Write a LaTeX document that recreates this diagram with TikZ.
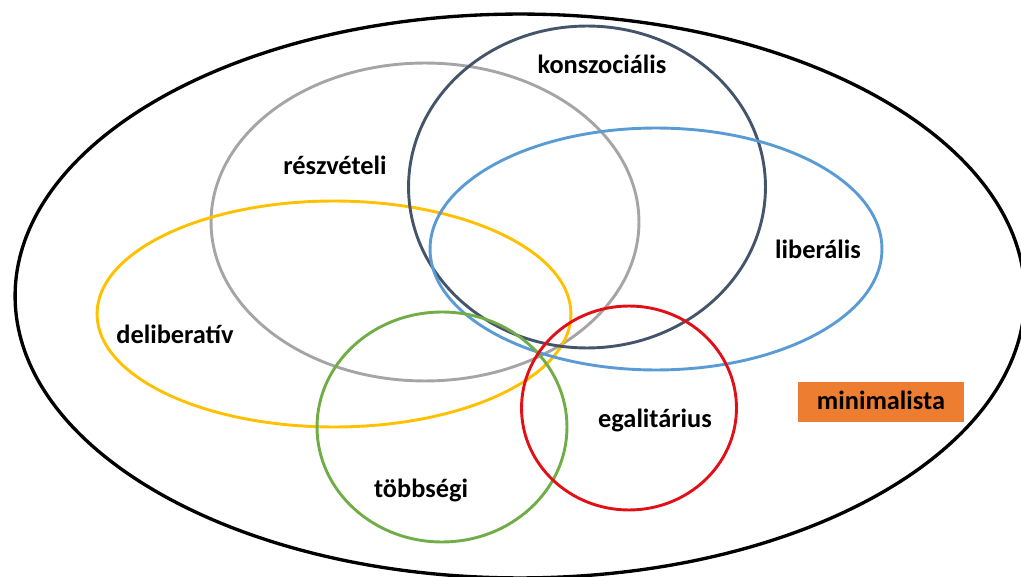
\documentclass[tikz,border=0pt]{standalone}
\usepackage{fontspec}
\setmainfont{Carlito}
\usepackage{tikz}
\usetikzlibrary{shapes.geometric}

\definecolor{kgray}{RGB}{165,165,165}
\definecolor{knavy}{RGB}{68,84,106}
\definecolor{kblue}{RGB}{91,155,213}
\definecolor{kyellow}{RGB}{255,192,0}
\definecolor{kgreen}{RGB}{112,173,71}
\definecolor{kred}{RGB}{226,16,22}
\definecolor{korange}{RGB}{237,125,49}

\begin{document}
\begin{tikzpicture}[x=0.02cm,y=-0.02cm]
\tikzstyle{lbl}=[anchor=base, inner sep=0pt, font=\fontsize{15}{18}\selectfont\bfseries]
\tikzstyle{ring}=[line width=1.65pt]

\useasboundingbox (0,0) rectangle (1021,577);
\clip (0,0) rectangle (1021,577);

% outer set
\draw[line width=1.9pt, black] (520,296) ellipse [x radius=10.1cm, y radius=5.64cm];

% overlapping sets
\draw[ring, kgray] (425,222) ellipse [x radius=4.28cm, y radius=3.18cm];
\draw[ring, kyellow] (334,314) ellipse [x radius=4.74cm, y radius=2.26cm];
\draw[ring, knavy] (587,187) ellipse [x radius=3.57cm, y radius=3.22cm];
\draw[ring, kblue] (656,249) ellipse [x radius=4.52cm, y radius=2.42cm];
\draw[ring, kgreen] (442,427) ellipse [x radius=2.5cm, y radius=2.3cm];
\draw[ring, kred] (629,408) ellipse [x radius=2.15cm, y radius=2.04cm];

% labels
\node[lbl] (konsz) at (602,74) {konszociális};
\node[lbl] (reszv) at (335,175) {részvételi};
\node[lbl] (liber) at (818,259) {liberális};
\node[lbl] (delib) at (175,344) {deliberatív};
\node[lbl] (tobbs) at (421,497) {többségi};
\node[lbl] (egali) at (655,427) {egalitárius};

\node[rectangle, fill=korange, minimum width=3.32cm, minimum height=0.82cm] (minbox) at (881,402) {};
\node[lbl] (minim) at (881,410) {minimalista};
\end{tikzpicture}
\end{document}
